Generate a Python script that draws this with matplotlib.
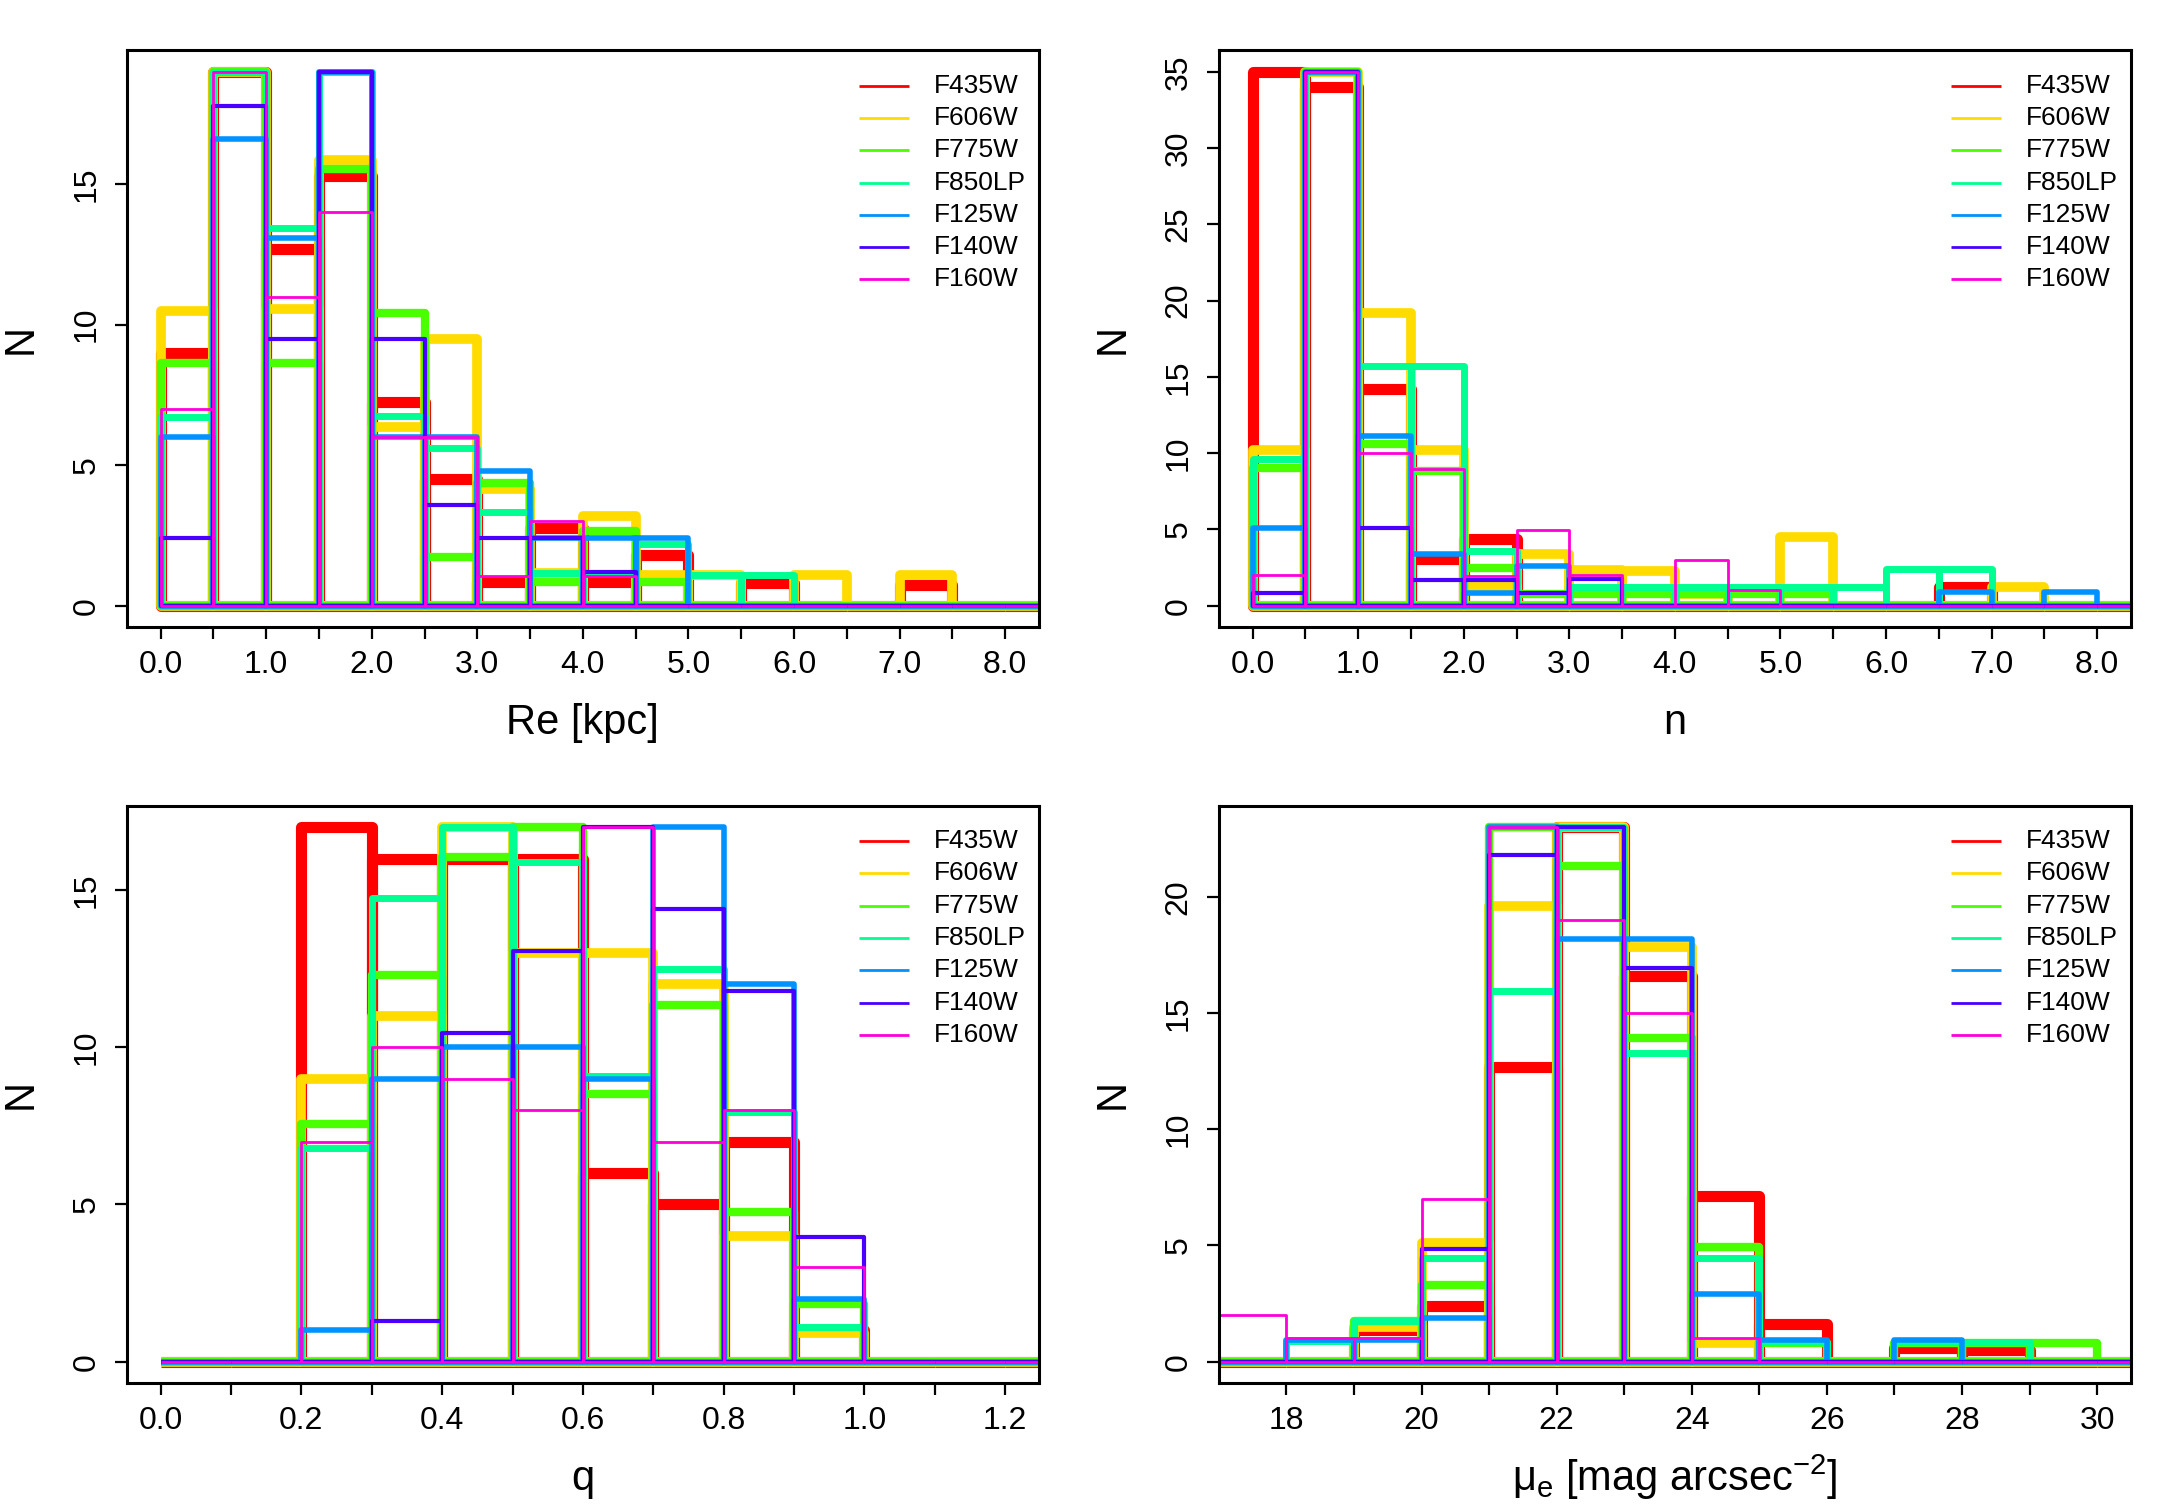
import numpy as np
import matplotlib
matplotlib.use("Agg")
import matplotlib.pyplot as plt

plt.rcParams['font.family'] = ['Liberation Sans', 'DejaVu Sans']

# filters, drawn in this order (first one at the bottom, thickest)
filters = ["F435W", "F606W", "F775W", "F850LP", "F125W", "F140W", "F160W"]
colors = ["#FF0000", "#FFDB00", "#49FF00", "#00FF92", "#0092FF", "#4900FF", "#FF00DB"]
line_widths = [4.0, 3.5, 3.0, 2.5, 2.0, 1.5, 1.0]

# --- Re [kpc]: bins of 0.5 starting at 0.0 ---
re_bin_left = [0.0, 0.5, 1.0, 1.5, 2.0, 2.5, 3.0, 3.5, 4.0, 4.5, 5.0, 5.5, 6.0, 6.5, 7.0, 7.5, 8.0, 8.5]
re_counts = [
    [9.0, 19, 12.7, 15.3, 7.25, 4.5, 0.85, 2.75, 0.85, 1.8, 0, 0.8, 0, 0, 0.75, 0, 0, 0],
    [10.5, 19, 10.55, 15.85, 6.35, 9.5, 4.15, 1.15, 3.2, 1.1, 1.1, 0, 1.1, 0, 1.1, 0, 0, 0],
    [8.65, 19, 8.65, 15.55, 10.4, 1.75, 4.35, 0.85, 2.65, 0.85, 0, 0, 0, 0, 0, 0, 0, 0],
    [6.7, 19, 13.45, 19, 6.75, 5.6, 3.35, 1.15, 1.15, 2.2, 1.1, 1.1, 0, 0, 0, 0, 0, 0],
    [6.0, 16.6, 13.1, 19, 6.0, 6.0, 4.8, 2.4, 2.4, 2.4, 0, 0, 0, 0, 0, 0, 0, 0],
    [2.4, 17.8, 9.5, 19, 9.5, 3.6, 2.4, 2.4, 1.2, 0, 0, 0, 0, 0, 0, 0, 0, 0],
    [7.0, 19, 11.0, 14.0, 6.0, 6.0, 1.05, 3.0, 1.05, 0, 0, 0, 0, 0, 0, 0, 0, 0],
]

# --- Sersic n: bins of 0.5 starting at 0.0 ---
n_bin_left = [0.0, 0.5, 1.0, 1.5, 2.0, 2.5, 3.0, 3.5, 4.0, 4.5, 5.0, 5.5, 6.0, 6.5, 7.0, 7.5, 8.0, 8.5]
n_counts = [
    [35, 34, 14.2, 3.05, 4.4, 0, 0, 0, 0, 0, 0, 0, 0, 1.25, 0, 0, 0, 0],
    [10.2, 35, 19.2, 10.2, 1.3, 3.4, 2.35, 2.3, 0.8, 0, 4.5, 0, 0, 0, 1.2, 0, 0, 0],
    [9.0, 35, 10.6, 8.8, 2.45, 0.8, 0.75, 0.75, 0.75, 0.77, 0.77, 0, 0, 0, 0, 0, 0, 0],
    [9.6, 35, 15.7, 15.7, 3.6, 0, 1.2, 1.2, 1.2, 1.2, 1.2, 1.2, 2.4, 2.4, 0, 0, 0, 0],
    [5.1, 35, 11.1, 3.4, 0.85, 2.6, 0, 0, 0, 0, 0, 0, 0, 0.87, 0, 0.87, 0, 0],
    [0.85, 35, 5.1, 1.7, 1.7, 0.86, 1.75, 0, 0, 0, 0, 0, 0, 0, 0, 0, 0, 0],
    [2.0, 35, 10.0, 8.95, 1.95, 4.95, 2.0, 0, 3.0, 1.0, 0, 0, 0, 0, 0, 0, 0, 0],
]

# --- axis ratio q: bins of 0.1 starting at 0.0 ---
q_bin_left = [0.0, 0.1, 0.2, 0.3, 0.4, 0.5, 0.6, 0.7, 0.8, 0.9, 1.0, 1.1, 1.2, 1.3, 1.4]
q_counts = [
    [0, 0, 17, 16, 16, 16, 6, 5, 7, 1.0, 0, 0, 0, 0, 0],
    [0, 0, 9, 11, 17, 13, 13, 12, 4, 0.9, 0, 0, 0, 0, 0],
    [0, 0, 7.55, 12.3, 16.05, 17, 8.5, 11.35, 4.75, 1.85, 0, 0, 0, 0, 0],
    [0, 0, 6.8, 14.75, 17, 15.9, 9.1, 12.5, 7.95, 1.1, 0, 0, 0, 0, 0],
    [0, 0, 1.0, 9.0, 10.0, 10.0, 9.0, 17, 12, 2.0, 0, 0, 0, 0, 0],
    [0, 0, 0, 1.3, 10.45, 13.05, 17, 14.4, 11.8, 3.95, 0, 0, 0, 0, 0],
    [0, 0, 7.0, 10.0, 9.0, 8.0, 17, 7.0, 8.0, 3.0, 0, 0, 0, 0, 0],
]

# --- mu_e [mag arcsec^-2]: bins of 1 starting at 17 ---
mu_bin_left = [17, 18, 19, 20, 21, 22, 23, 24, 25, 26, 27, 28, 29, 30]
mu_counts = [
    [0, 0, 1.35, 2.4, 12.7, 23, 16.6, 7.15, 1.6, 0, 0.6, 0.5, 0, 0],
    [0, 0, 1.5, 5.1, 19.6, 23, 17.85, 0.8, 0, 0, 0, 0, 0, 0],
    [0, 0, 1.75, 3.3, 23, 21.35, 13.95, 4.95, 0.8, 0, 0.8, 0.8, 0.8, 0],
    [0, 0.9, 1.75, 4.45, 15.95, 23, 13.3, 4.45, 0.85, 0, 0.85, 0.85, 0, 0],
    [0, 0.95, 0.95, 1.9, 23, 18.2, 18.2, 2.9, 0.95, 0, 0.95, 0, 0, 0],
    [0, 0, 0, 4.85, 21.8, 23, 16.95, 0, 0, 0, 0, 0, 0, 0],
    [2.0, 1.0, 1.0, 7.0, 23, 19.0, 15.0, 1.0, 0, 0, 0, 0, 0, 0],
]


def draw_panel(ax, bin_left, bin_width, counts, xlim, ymax, xticks, xlabels, yticks, xlabel, xlabel_y=-0.166):
    for counts_f, col, lw in zip(counts, colors, line_widths):
        bars = ax.bar(bin_left, counts_f, width=bin_width, align='edge', fill=False,
                      edgecolor=col, linewidth=lw)
        for p in bars:
            p.set_joinstyle('round')

    # R style axis extension (4%)
    ax.set_xlim(xlim[0] - 0.04 * (xlim[1] - xlim[0]), xlim[1] + 0.04 * (xlim[1] - xlim[0]))
    ax.set_ylim(-0.04 * ymax, 1.04 * ymax)

    ax.set_xticks(xticks)
    ax.set_xticklabels(xlabels)
    ax.set_yticks(yticks)
    ax.set_yticklabels([str(t) for t in yticks])
    ax.tick_params(axis='both', direction='out', length=4.2, width=0.8, labelsize=11.5, color='black')
    ax.tick_params(axis='x', pad=4.0)
    ax.tick_params(axis='y', labelrotation=90, pad=5.0)
    for lab in ax.get_yticklabels():
        lab.set_va('center')

    for s in ax.spines.values():
        s.set_linewidth(1.1)
        s.set_color('black')

    ax.set_xlabel(xlabel, fontsize=15)
    ax.xaxis.set_label_coords(0.5, xlabel_y)
    ax.xaxis.label.set_va('center')
    ax.set_ylabel("N", fontsize=15)
    ax.yaxis.set_label_coords(-0.117, 0.5)
    ax.yaxis.label.set_va('center')

    # legend drawn by hand, R style (no box)
    for i, (name, col) in enumerate(zip(filters, colors)):
        yy = 0.939 - i * 0.056
        ax.plot([0.8026, 0.8575], [yy, yy], color=col, lw=1.0, transform=ax.transAxes,
                solid_capstyle='butt', clip_on=False)
        ax.text(0.885, yy, name, transform=ax.transAxes, fontsize=9.5, va='center', ha='left')


fig = plt.figure(figsize=(10.92, 7.555), dpi=200)
fig.patch.set_facecolor('white')

ax1 = fig.add_axes([0.0581, 0.585, 0.4176, 0.3816])
ax2 = fig.add_axes([0.5581, 0.585, 0.4176, 0.3816])
ax3 = fig.add_axes([0.0581, 0.0847, 0.4176, 0.3819])
ax4 = fig.add_axes([0.5581, 0.0847, 0.4176, 0.3819])

half_ticks = [i * 0.5 for i in range(17)]
half_labels = [f"{t:.1f}" if i % 2 == 0 else "" for i, t in enumerate(half_ticks)]

draw_panel(ax1, re_bin_left, 0.5, re_counts, (0, 8), 19, half_ticks, half_labels,
           [0, 5, 10, 15], "Re [kpc]")
draw_panel(ax2, n_bin_left, 0.5, n_counts, (0, 8), 35, half_ticks, half_labels,
           [0, 5, 10, 15, 20, 25, 30, 35], "n")

q_ticks = [i * 0.1 for i in range(13)]
q_labels = [f"{t:.1f}" if i % 2 == 0 else "" for i, t in enumerate(q_ticks)]
draw_panel(ax3, q_bin_left, 0.1, q_counts, (0, 1.2), 17, q_ticks, q_labels,
           [0, 5, 10, 15], "q")

mu_ticks = list(range(18, 31))
mu_labels = [str(t) if t % 2 == 0 else "" for t in mu_ticks]
draw_panel(ax4, mu_bin_left, 1.0, mu_counts, (17.5, 30), 23, mu_ticks, mu_labels,
           [0, 5, 10, 15, 20], r"$\mathregular{\mu_e}$ [mag arcsec$^{\mathregular{-2}}$]",
           xlabel_y=-0.163)

fig.savefig("out.png", dpi=200, facecolor='white')
